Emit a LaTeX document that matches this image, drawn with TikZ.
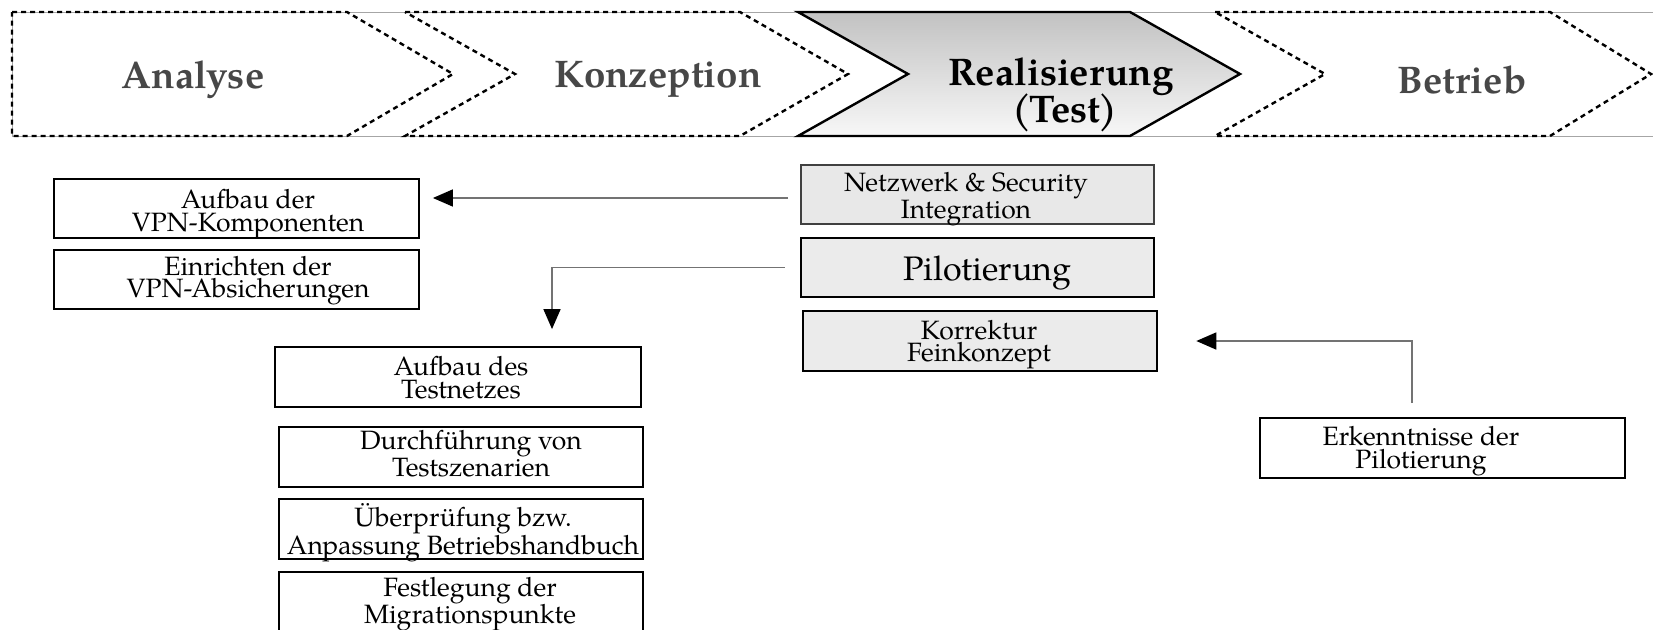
\documentclass[tikz,border=0pt]{standalone}
\usepackage{fontspec}
\setmainfont{TeX Gyre Pagella}
\usetikzlibrary{arrows.meta,calc}
\begin{document}
\begin{tikzpicture}[x=1pt,y=-1pt,
  band/.style={draw=black!35, line width=0.8pt},
  phase/.style={draw=black, line width=2.4pt, dash pattern=on 5pt off 4pt, line join=miter},
  active/.style={draw=black, line width=2.4pt, top color=black!24, bottom color=black!3, line join=miter},
  phasetext/.style={font=\fontsize{38.5}{37}\selectfont\bfseries, text=black!72, inner sep=0pt, anchor=base},
  box/.style={draw=black, line width=1.8pt, fill=white, inner sep=0pt},
  graybox/.style={box, fill=black!8, line width=2.6pt},
  txt/.style={font=\fontsize{26.5}{22.5}\selectfont, align=center, inner sep=0pt},
  conn/.style={draw=black!55, line width=1.6pt, -{Triangle[length=20pt,width=17pt,color=black]}},
]
\useasboundingbox (0,0) rectangle (1653,629);

% phase band
\draw[band] (12,12) rectangle (1660,136);
\draw[phase] (12,12) -- (347,12) -- (453,74) -- (347,136) -- (12,136) -- cycle;
\draw[phase] (405,12) -- (740,12) -- (848,74) -- (740,136) -- (405,136) -- (515,74) -- cycle;
\draw[active] (798,12) -- (1130,12) -- (1240,74) -- (1130,136) -- (798,136) -- (908,74) -- cycle;
\draw[phase] (1215,12) -- (1550,12) -- (1651,74) -- (1550,136) -- (1215,136) -- (1325,74) -- cycle;

\node[phasetext] (pana) at (193,88) {Analyse};
\node[phasetext] (pkon) at (658,87) {Konzeption};
\node[phasetext, text=black] (prea) at (1061,85) {Realisierung};
\node[phasetext, text=black] (ptst) at (1065,122) {(\kern-2ptTest\kern-2pt)};
\node[phasetext] (pbet) at (1462,93) {Betrieb};

% activity boxes
\node[box, minimum width=365pt, minimum height=59pt] (avk) at (236.5,208.5) {};
\node[box, minimum width=365pt, minimum height=59pt] (evs) at (236.5,279.5) {};
\node[graybox, fill=black!9, line width=1.6pt, draw=black!75, minimum width=353pt, minimum height=59pt] (nsi) at (977.5,194.5) {};
\node[graybox, minimum width=353pt, minimum height=59pt] (pil) at (977.5,267.5) {};
\node[graybox, minimum width=354pt, minimum height=60pt] (kfk) at (980,341) {};
\node[box, minimum width=365pt, minimum height=60pt] (ekp) at (1442.5,448) {};
\node[box, minimum width=366pt, minimum height=60pt] (atn) at (458,377) {};
\node[box, minimum width=364pt, minimum height=60pt] (dts) at (461,457) {};
\node[box, minimum width=364pt, minimum height=60pt] (uab) at (461,529) {};
\node[box, minimum width=364pt, minimum height=64pt] (fmp) at (461,604) {};

% box labels
\node[txt] (tavk) at (248,214) {Aufbau der\\VPN-Komponenten};
\node[txt] (tevs) at (248,280.5) {Einrichten der\\VPN-Absicherungen};
\node[txt] (tnsi) at (966,199) {Netzwerk \& Security\\Integration};
\node[txt, font=\fontsize{34}{34}\selectfont] (tpil) at (987.5,273.2) {Pilotierung};
\node[txt] (tkfk) at (979,344.5) {Korrektur\\Feinkonzept};
\node[txt] (tekp) at (1421,451) {Erkenntnisse der\\Pilotierung};
\node[txt] (tatn) at (461,377.5) {Aufbau des\\Testnetzes};
\node[txt] (tdts) at (471,453.5) {Durchführung von\\Testszenarien};
\node[txt] (tuab) at (463,532.5) {Überprüfung bzw.\\Anpassung Betriebshandbuch};
\node[txt] (tfmp) at (470,604) {Festlegung der\\Migrationspunkte};

% connectors
\coordinate (c1s) at ([xshift=-12pt,yshift=-3.5pt]nsi.west);
\coordinate (c1e) at ([xshift=13pt]avk.east);
\draw[conn] (c1s) -- (c1s -| c1e);
\draw[conn, shorten <=15pt, shorten >=17pt] (pil.west) -| ([xshift=94pt]atn.north);
\draw[conn, shorten <=14pt, shorten >=38pt] ([xshift=-30.5pt]ekp.north) |- (kfk.east);
\end{tikzpicture}
\end{document}
